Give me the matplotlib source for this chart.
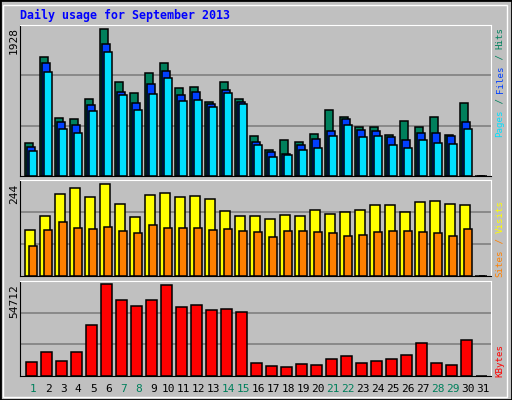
import matplotlib
matplotlib.use("Agg")
import matplotlib.pyplot as plt
from matplotlib.patches import Rectangle
import numpy as np

days = list(range(1, 32))
weekend = [1, 7, 8, 14, 15, 21, 22, 28, 29]
hits = [433, 1564, 761, 748, 1010, 1928, 1237, 1093, 1355, 1486, 1153, 1167, 970, 1237, 1010,
        524, 341, 472, 446, 551, 866, 774, 643, 643, 538, 722, 643, 774, 538, 958, 0]
files = [381, 1486, 708, 669, 931, 1731, 1102, 958, 1207, 1377, 1062, 1102, 944, 1128, 970,
         446, 315, 288, 406, 485, 590, 748, 603, 590, 512, 472, 564, 564, 525, 708, 0]
pages = [328, 1368, 616, 564, 853, 1626, 1062, 866, 1075, 1285, 984, 997, 905, 1089, 949,
         406, 249, 275, 341, 367, 525, 669, 512, 525, 406, 367, 472, 433, 420, 616, 0]
visits = [122, 159, 217, 233, 209, 244, 193, 156, 215, 220, 209, 212, 204, 173, 159,
          159, 151, 162, 159, 175, 164, 170, 175, 188, 188, 170, 196, 201, 191, 188, 0]
sites = [80, 122, 143, 127, 125, 130, 119, 114, 135, 127, 127, 127, 122, 125, 119,
         117, 103, 119, 119, 117, 114, 106, 109, 117, 119, 119, 117, 114, 106, 125, 0]
kbytes = [7988, 13979, 8587, 13979, 30155, 54712, 45127, 41532, 45127, 54113, 40933, 42131,
          39136, 39735, 37938, 7389, 5592, 4993, 6790, 6191, 9785, 11582, 7389, 8587, 9785,
          12181, 19370, 7389, 6191, 21167, 0]

BG = "#C0C0C0"
W, H = 512, 400
fig = plt.figure(figsize=(W/100, H/100), dpi=100, facecolor=BG)
mono = "DejaVu Sans Mono"

fig.patches.append(Rectangle((0, 0), 1, 1, transform=fig.transFigure, fill=False,
                             edgecolor="black", linewidth=2))
fig.patches.append(Rectangle((3/W, 3/H), 1-8/W, 1-8/H, transform=fig.transFigure, fill=False,
                             edgecolor="white", linewidth=1))

x0, x1 = 20, 490.7
def ax_at(top, bottom):
    return fig.add_axes([x0/W, 1-bottom/H, (x1-x0)/W, (bottom-top)/H], facecolor=BG)

x = np.array(days, dtype=float)
def style(ax, ymax, frac):
    ax.set_xlim(0.113, 31.49)
    top = ymax/frac
    ax.set_ylim(0, top)
    for g in (top/3, 2*top/3):
        ax.axhline(g, color="#808080", lw=1.2, zorder=0)
    ax.set_xticks([]); ax.set_yticks([])
    ax.spines["top"].set_color("white"); ax.spines["right"].set_color("white")
    ax.spines["left"].set_color("black"); ax.spines["bottom"].set_color("black")

ek = dict(edgecolor="black", linewidth=1.1, align="edge")
a1 = ax_at(25, 176.3)
style(a1, 1928, 147/151.3)
a1.bar(x-0.533, hits, 0.49, color="#00805C", **ek)
a1.bar(x-0.42, files, 0.51, color="#0040FF", **ek)
a1.bar(x-0.29, pages, 0.52, color="#00E0FF", **ek)

a2 = ax_at(180.3, 276.3)
style(a2, 244, 92/96)
a2.bar(x-0.53, visits, 0.62, color="#FFFF00", **ek)
a2.bar(x-0.27, sites, 0.5, color="#FF8000", **ek)

a3 = ax_at(281, 375.7)
style(a3, 54712, 91.3/94.7)
a3.bar(x-0.47, kbytes, 0.70, color="#FF0000", **ek)

for d in days:
    fig.text((33.3+15*(d-1))/W, 1-389/H, str(d), ha="center", va="center", fontsize=8,
             family=mono, color="#00805C" if d in weekend else "black")

fig.text(20/W, 1-15/H, "Daily usage for September 2013", fontsize=8.4, fontweight="bold",
         family=mono, color="#0000FF", va="center", ha="left")

for lbl, ytop in (("1928", 27), ("244", 184), ("54712", 284)):
    fig.text(14/W, 1-ytop/H, lbl, rotation=90, fontsize=8, family=mono, ha="center", va="top")

FS = 6.6
CW = 0.602 * FS * 100 / 72
def vlabel(parts, ybottom):
    y = ybottom
    for s, c in parts:
        fig.text(500/W, 1-y/H, s, rotation=90, fontsize=FS, family=mono, color=c,
                 ha="center", va="bottom", rotation_mode="anchor" if False else "default")
        y -= len(s)*CW
vlabel([("Pages", "#00E0FF"), (" / ", "#00805C"), ("Files", "#0040FF"), (" / ", "#00805C"),
        ("Hits", "#00805C")], 137)
vlabel([("Sites", "#FF8000"), (" / ", "#FF8000"), ("Visits", "#FFFF00")], 277)
vlabel([("KBytes", "#FF0000")], 377)

fig.savefig("out.png", dpi=100, facecolor=BG)
